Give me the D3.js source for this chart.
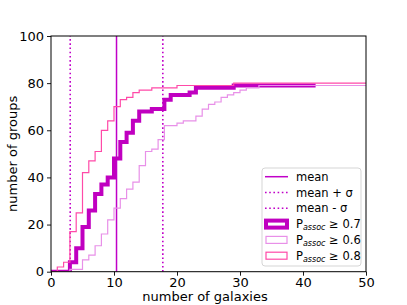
<!DOCTYPE html>
<html>
<head>
<meta charset="utf-8">
<script src="https://cdn.jsdelivr.net/npm/d3@7"></script>
<style>
  body { margin: 0; background: #fff; }
  svg text { font-family: "DejaVu Sans", sans-serif; }
</style>
</head>
<body>
<svg id="chart" width="407" height="305"></svg>
<script>
// cumulative number of groups at each integer number of galaxies (bin [i, i+1))
var p07 = [0, 0, 0, 4, 10, 19, 26, 33, 37, 40, 48, 55, 59, 64, 68, 68, 69, 69, 73, 75,
           75, 75, 76, 78, 78, 78, 78, 78, 78, 79, 79, 79, 79, 79, 79, 79, 79, 79, 79, 79,
           79, 79];
var p06 = [0, 0, 0, 1, 1, 5, 7, 11, 16, 22, 27, 31, 35, 38, 45, 51, 52, 56, 62, 62,
           63, 64, 64, 66, 69, 71, 72, 74, 75, 76, 77, 78, 78, 79, 79, 79, 79, 79, 79, 79,
           79, 79, 79, 79, 79, 79, 79, 79, 79, 79];
var p08 = [0, 2, 4, 17, 25, 42, 47, 51, 60, 64, 70, 73, 74, 76, 77, 77, 78, 78, 78, 78,
           79, 79, 79, 79, 79, 79, 79, 79, 79, 80, 80, 80, 80, 80, 80, 80, 80, 80, 80, 80,
           80, 80, 80, 80, 80, 80, 80, 80, 80, 80];

var meanVal = 10.4;
var sigmaVal = 7.35;

var xTicks = [0, 10, 20, 30, 40, 50];
var yTicks = [0, 20, 40, 60, 80, 100];

var legendLabels = ["mean", "mean + σ", "mean - σ", "0.7", "0.6", "0.8"];

var cMean = "#c000c8";
var c07 = "#c000c0";
var c06 = "#e890e8";
var c08 = "#ff4aa8";

var svg = d3.select("#chart");
var mLeft = 51, mRight = 366, mTop = 36, mBottom = 271.7;

var xScale = d3.scaleLinear().domain([0, 50]).range([mLeft, mRight]);
var yScale = d3.scaleLinear().domain([0, 100]).range([mBottom, mTop]);

svg.append("defs").append("clipPath").attr("id", "plotClip")
  .append("rect")
  .attr("x", mLeft).attr("y", mTop)
  .attr("width", mRight - mLeft).attr("height", mBottom - mTop);

var plot = svg.append("g").attr("clip-path", "url(#plotClip)");

// step lines, each value holds for [i, i+1)
function stepPath(vals)
{
  var pts = vals.map(function(v, i) { return [i, v]; });
  pts.push([vals.length, vals[vals.length - 1]]);
  return d3.line()
    .x(function(d) { return xScale(d[0]); })
    .y(function(d) { return yScale(d[1]); })
    .curve(d3.curveStepAfter)(pts);
}

// mean lines
plot.append("line")
  .attr("x1", xScale(meanVal)).attr("x2", xScale(meanVal))
  .attr("y1", yScale(0)).attr("y2", yScale(100))
  .attr("stroke", cMean).attr("stroke-width", 1.5);

[meanVal + sigmaVal, meanVal - sigmaVal].forEach(function(v)
{
  plot.append("line")
    .attr("x1", xScale(v)).attr("x2", xScale(v))
    .attr("y1", yScale(0)).attr("y2", yScale(100))
    .attr("stroke", cMean).attr("stroke-width", 1.6)
    .attr("stroke-dasharray", "1.6,2.6");
});

plot.append("path").attr("d", stepPath(p07))
  .attr("fill", "none").attr("stroke", c07).attr("stroke-width", 4);
plot.append("path").attr("d", stepPath(p06))
  .attr("fill", "none").attr("stroke", c06).attr("stroke-width", 1.2);
plot.append("path").attr("d", stepPath(p08))
  .attr("fill", "none").attr("stroke", c08).attr("stroke-width", 1.2);

// axes
var xAxis = d3.axisBottom(xScale).tickValues(xTicks).tickSize(4).tickPadding(2);
var yAxis = d3.axisLeft(yScale).tickValues(yTicks).tickSize(4).tickPadding(3);

svg.append("g").attr("transform", "translate(0," + mBottom + ")").call(xAxis);
svg.append("g").attr("transform", "translate(" + mLeft + ",0)").call(yAxis);

svg.selectAll(".tick text").attr("font-size", 13).attr("fill", "#000")
  .style("font-family", "DejaVu Sans");
svg.selectAll(".domain").remove();
svg.selectAll(".tick line").attr("stroke", "#000").attr("stroke-width", 0.9);

svg.append("rect")
  .attr("x", mLeft).attr("y", mTop)
  .attr("width", mRight - mLeft).attr("height", mBottom - mTop)
  .attr("fill", "none").attr("stroke", "#000").attr("stroke-width", 1);

svg.append("text")
  .attr("x", 205).attr("y", 301)
  .attr("text-anchor", "middle").attr("font-size", 13)
  .text("number of galaxies");

svg.append("text")
  .attr("transform", "translate(17," + ((mTop + mBottom) / 2) + ") rotate(-90)")
  .attr("text-anchor", "middle").attr("font-size", 13)
  .text("number of groups");

// legend
var lg = svg.append("g");
lg.append("rect")
  .attr("x", 262).attr("y", 168).attr("width", 99).attr("height", 98)
  .attr("rx", 3).attr("fill", "#fff").attr("fill-opacity", 0.8)
  .attr("stroke", "#d0d0d0").attr("stroke-width", 0.9);

var rowY = d3.range(6).map(function(i) { return 176.7 + i * 15.8; });

lg.append("line").attr("x1", 265).attr("x2", 288).attr("y1", rowY[0]).attr("y2", rowY[0])
  .attr("stroke", cMean).attr("stroke-width", 1.5);
[1, 2].forEach(function(i)
{
  lg.append("line").attr("x1", 265).attr("x2", 288).attr("y1", rowY[i]).attr("y2", rowY[i])
    .attr("stroke", cMean).attr("stroke-width", 1.6).attr("stroke-dasharray", "1.6,2.6");
});
lg.append("rect").attr("x", 266).attr("y", rowY[3] - 3.5).attr("width", 21).attr("height", 7)
  .attr("fill", "none").attr("stroke", c07).attr("stroke-width", 4);
lg.append("rect").attr("x", 266).attr("y", rowY[4] - 3.5).attr("width", 21).attr("height", 7)
  .attr("fill", "none").attr("stroke", c06).attr("stroke-width", 1.2);
lg.append("rect").attr("x", 266).attr("y", rowY[5] - 3.5).attr("width", 21).attr("height", 7)
  .attr("fill", "none").attr("stroke", c08).attr("stroke-width", 1.2);

legendLabels.forEach(function(lab, i)
{
  var t = lg.append("text").attr("x", 296).attr("y", rowY[i] + 4).attr("font-size", 11.5);
  if (i < 3)
  {
    t.text(lab);
  }
  else
  {
    t.append("tspan").text("P");
    t.append("tspan").attr("font-size", 8).attr("font-style", "italic")
      .attr("dy", 2).text("assoc");
    t.append("tspan").attr("dy", -2).text(" ≥  " + lab);
  }
});
</script>
</body>
</html>
